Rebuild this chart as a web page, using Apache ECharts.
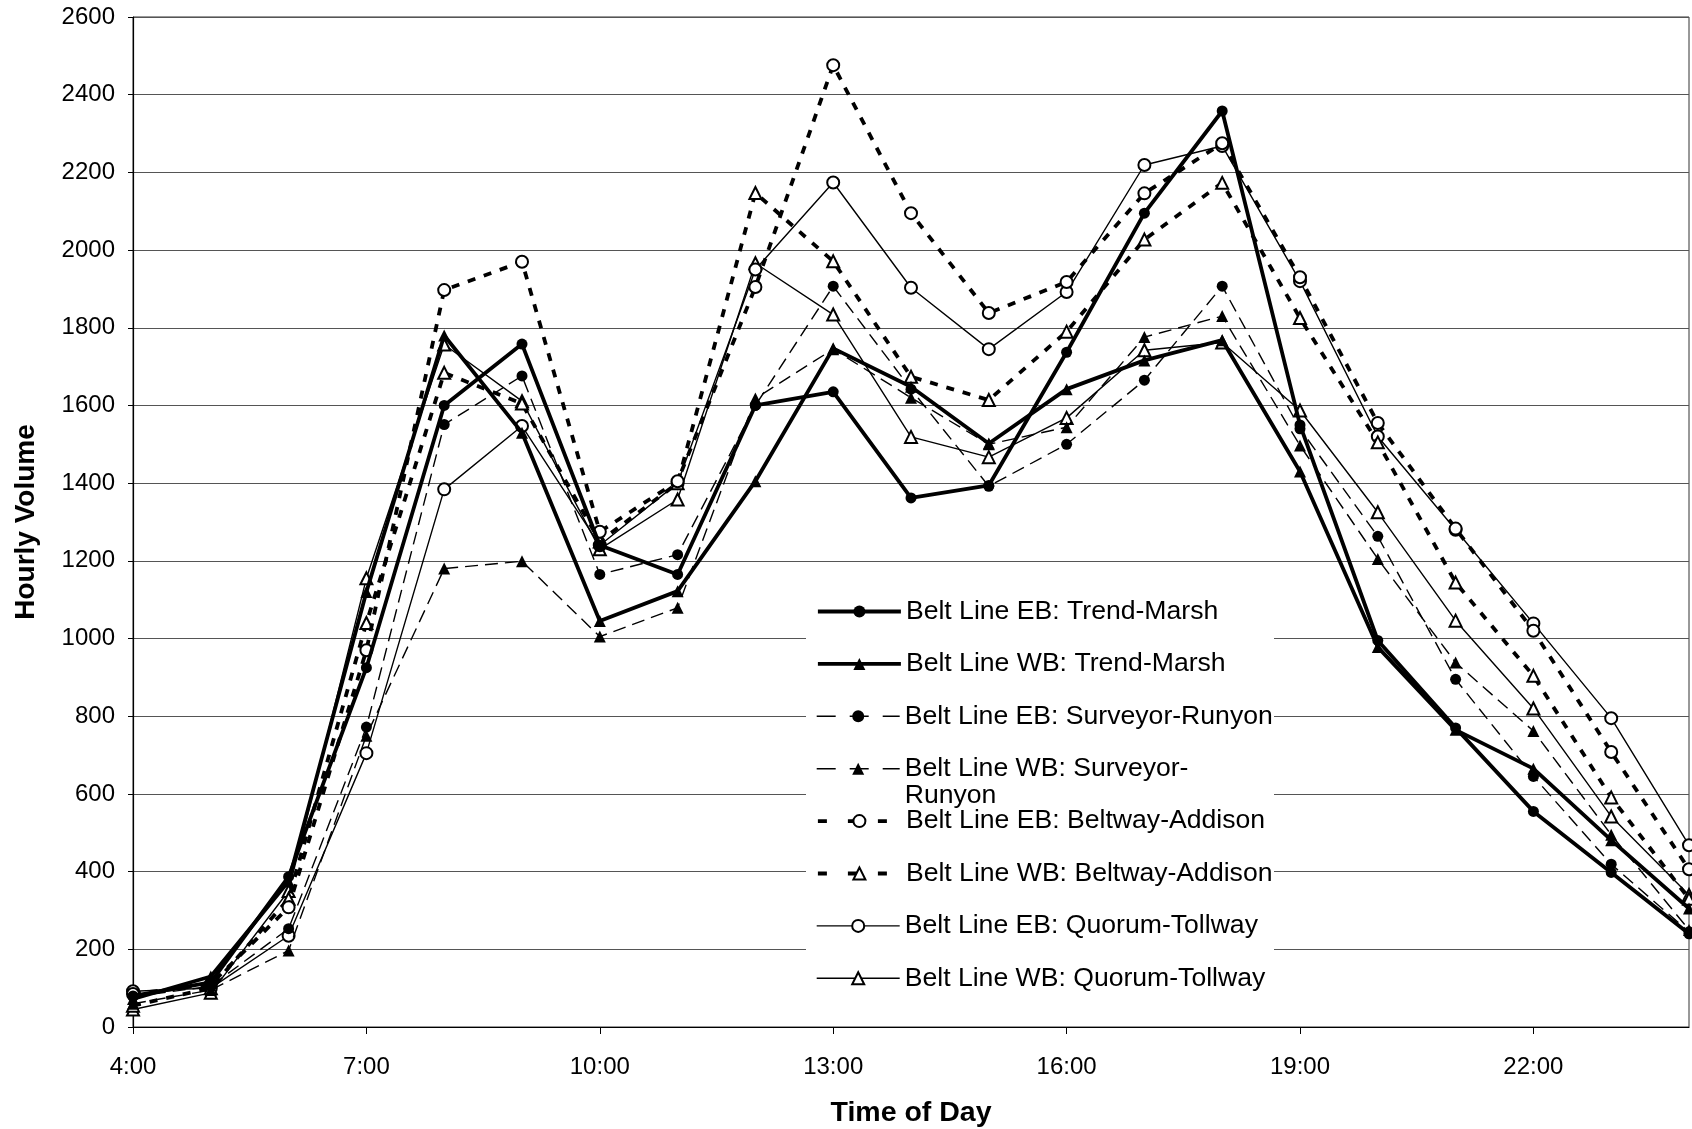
<!DOCTYPE html>
<html><head><meta charset="utf-8">
<script src="https://cdn.jsdelivr.net/npm/echarts@6/dist/echarts.min.js"></script>
<style>html,body{margin:0;padding:0;background:#fff}#c{width:1692px;height:1129px}</style>
</head><body><div id="c"></div>
<script>
// ---- data ----
const hours = ['4:00','5:00','6:00','7:00','8:00','9:00','10:00','11:00','12:00','13:00','14:00','15:00','16:00','17:00','18:00','19:00','20:00','21:00','22:00','23:00','0:00'];
const seriesNames = [
  'Belt Line EB: Trend-Marsh',
  'Belt Line WB: Trend-Marsh',
  'Belt Line EB: Surveyor-Runyon',
  'Belt Line WB: Surveyor-Runyon',
  'Belt Line EB: Beltway-Addison',
  'Belt Line WB: Beltway-Addison',
  'Belt Line EB: Quorum-Tollway',
  'Belt Line WB: Quorum-Tollway'
];
const ebTrendMarsh = [80,115,387,925,1600,1758,1240,1165,1600,1635,1362,1394,1737,2095,2358,1550,995,770,555,398,240];
const wbTrendMarsh = [72,130,375,1120,1780,1530,1045,1122,1405,1747,1648,1502,1642,1716,1768,1430,978,765,665,481,305];
const ebSurveyor   = [78,105,253,772,1551,1676,1165,1216,1600,1907,1642,1392,1500,1665,1907,1540,1263,895,645,419,245];
const wbSurveyor   = [60,95,197,750,1180,1199,1005,1079,1618,1745,1620,1500,1544,1776,1830,1497,1205,938,762,495,250];
const ebBeltway    = [85,110,308,970,1897,1970,1275,1405,1905,2476,2095,1838,1918,2146,2275,1930,1555,1283,1020,708,406];
const wbBeltway    = [55,100,330,1040,1684,1605,1250,1400,2147,1971,1674,1614,1790,2027,2173,1825,1505,1144,904,591,330];
const ebQuorum     = [92,100,235,705,1384,1547,1240,1400,1950,2174,1903,1745,1892,2219,2268,1920,1520,1280,1039,795,468];
const wbQuorum     = [45,88,350,1155,1757,1611,1230,1358,1966,1834,1519,1467,1568,1742,1762,1587,1325,1046,820,542,340];
const allValues = [ebTrendMarsh, wbTrendMarsh, ebSurveyor, wbSurveyor, ebBeltway, wbBeltway, ebQuorum, wbQuorum];
const legendLabels = [
  'Belt Line EB: Trend-Marsh',
  'Belt Line WB: Trend-Marsh',
  'Belt Line EB: Surveyor-Runyon',
  '\nBelt Line WB: Surveyor-\nRunyon',
  'Belt Line EB: Beltway-Addison',
  'Belt Line WB: Beltway-Addison',
  'Belt Line EB: Quorum-Tollway',
  'Belt Line WB: Quorum-Tollway'
];

// ---- styles ----
const FONT = '"Liberation Sans", Arial, sans-serif';
const styles = [
  {symbol:'circle', size:11, width:3.8, type:'solid', legendType:'solid'},
  {symbol:'triangle', size:12, width:3.8, type:'solid', legendType:'solid'},
  {symbol:'circle', size:11, width:1.4, type:[13,7], legendType:[19,14]},
  {symbol:'triangle', size:12, width:1.4, type:[13,7], legendType:[19,14]},
  {symbol:'emptyCircle', size:12, width:3.8, type:[8,9], legendType:[9,21]},
  {symbol:'emptyTriangle', size:12, width:3.8, type:[8,9], legendType:[9,21]},
  {symbol:'emptyCircle', size:12, width:1.4, type:'solid', legendType:'solid'},
  {symbol:'emptyTriangle', size:12, width:1.4, type:'solid', legendType:'solid'}
];

const series = seriesNames.map((name, i) => ({
  name,
  type: 'line',
  data: allValues[i],
  symbol: styles[i].symbol,
  symbolSize: styles[i].size,
  showAllSymbol: true,
  lineStyle: {color:'#000', width: styles[i].width, type: styles[i].type},
  itemStyle: {color:'#000', borderColor:'#000', borderWidth: styles[i].symbol.indexOf('empty') === 0 ? 1.6 : 0},
  emphasis: {disabled: true},
  z: 10 - i
}));

const LFS = 26.6, LLH = 27;
const legendTop0 = 611.5, legendStep = 52.4;
const legends = seriesNames.map((name, i) => {
  const nLines = legendLabels[i].split('\n').length;
  return {
    data: [name],
    orient: 'vertical',
    left: 816,
    top: legendTop0 + i * legendStep - nLines * LLH / 2,
    padding: 0,
    itemWidth: 83,
    itemHeight: 15,
    itemGap: 0,
    selectedMode: false,
    formatter: () => legendLabels[i],
    lineStyle: {width: styles[i].width, type: styles[i].legendType, color: '#000'},
    textStyle: {fontFamily: FONT, fontSize: LFS, color: '#000', lineHeight: LLH}
  };
});

const chart = echarts.init(document.getElementById('c'), null, {renderer: 'canvas'});
chart.setOption({
  backgroundColor: '#fff',
  animation: false,
  grid: {left: 133, right: 3, top: 17, bottom: 102, show: true, borderColor: '#333', borderWidth: 1,
         containLabel: false, outerBoundsMode: 'none'},
  graphic: [{type: 'rect', left: 806, top: 582, z: 1, shape: {width: 468, height: 418}, style: {fill: '#fff'}}],
  legend: legends,
  xAxis: {
    type: 'category', data: hours, boundaryGap: false,
    name: 'Time of Day', nameLocation: 'middle', nameGap: 72,
    nameTextStyle: {fontFamily: FONT, fontSize: 28.5, fontWeight: 'bold', color: '#000'},
    axisLine: {lineStyle: {color: '#000', width: 1.2}},
    axisTick: {interval: 2, length: 7, lineStyle: {color: '#000'}},
    axisLabel: {interval: 2, margin: 28, fontFamily: FONT, fontSize: 24, color: '#000'},
    splitLine: {show: false}
  },
  yAxis: {
    type: 'value', min: 0, max: 2600, interval: 200,
    name: 'Hourly Volume', nameLocation: 'middle', nameGap: 93,
    nameTextStyle: {fontFamily: FONT, fontSize: 28, fontWeight: 'bold', color: '#000'},
    axisLine: {show: true, lineStyle: {color: '#000', width: 1.2}},
    axisTick: {show: true, length: 5, lineStyle: {color: '#000'}},
    axisLabel: {margin: 18, fontFamily: FONT, fontSize: 24, color: '#000', formatter: v => String(v)},
    splitLine: {show: true, lineStyle: {color: '#555', width: 1.2}}
  },
  series
});
</script>
</body></html>
